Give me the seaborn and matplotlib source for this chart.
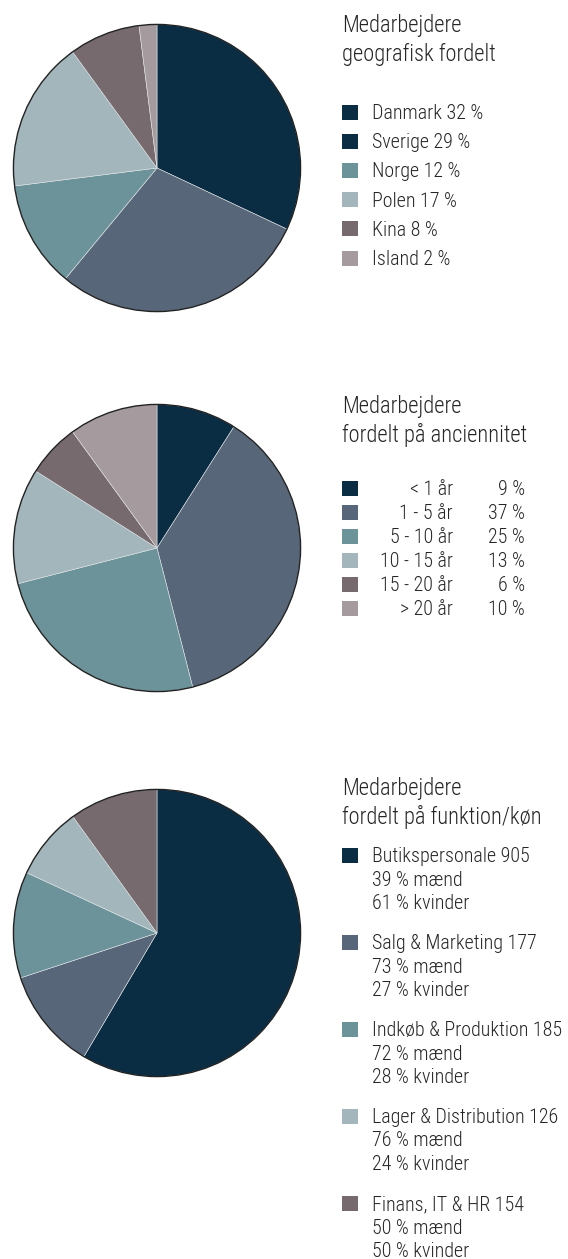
import matplotlib
matplotlib.use("Agg")
import matplotlib.pyplot as plt
from matplotlib import font_manager as fm
from matplotlib.patches import Circle, Rectangle
import seaborn as sns

# --- data ---
geo_labels = ["Danmark", "Sverige", "Norge", "Polen", "Kina", "Island"]
geo_pct = [32, 29, 12, 17, 8, 2]

anc_labels = ["< 1 år", "1 - 5 år", "5 - 10 år", "10 - 15 år", "15 - 20 år", "> 20 år"]
anc_pct = [9, 37, 25, 13, 6, 10]

func_labels = ["Butikspersonale", "Salg & Marketing", "Indkøb & Produktion",
               "Lager & Distribution", "Finans, IT & HR"]
func_count = [905, 177, 185, 126, 154]
func_men = [39, 73, 72, 76, 50]
func_women = [61, 27, 28, 24, 50]

palette = ["#0b2d44", "#576779", "#6d939a", "#a2b6bc", "#766a6e", "#a59b9e"]
# i referencen har Sverige samme farve som Danmark i forklaringen
geo_legend_colors = ["#0b2d44", "#0b2d44", "#6d939a", "#a2b6bc", "#766a6e", "#a59b9e"]

sns.set_theme(style="white")

# smal skrift ligesom i originalen, hvis den findes
wanted = ["Roboto Condensed", "Liberation Sans Narrow", "Archivo Narrow", "PT Sans Narrow",
          "Fira Sans Condensed", "IBM Plex Sans Condensed", "Encode Sans Condensed",
          "Open Sans Condensed", "Asap Condensed", "Barlow Semi Condensed", "Arimo"]
installed = {}
for f in fm.fontManager.ttflist:
    installed.setdefault(f.name, set()).add(f.weight)
font = next((n for n in wanted if n in installed), "DejaVu Sans")
weight = 300 if 300 in installed.get(font, set()) else "normal"
plt.rcParams["font.family"] = [font, "DejaVu Sans"]
txt_color = "#262626"

W, H = 568, 1259
fig = plt.figure(figsize=(W / 100, H / 100), dpi=100)
fig.patch.set_facecolor("white")


def pie_axes(cx, cy, r):
    return fig.add_axes([(cx - r) / W, 1 - (cy + r) / H, 2 * r / W, 2 * r / H])


def draw_pie(ax, values, colors):
    ax.pie(values, colors=colors, startangle=90, counterclock=False, radius=1,
           wedgeprops=dict(edgecolor="#dfe4e6", linewidth=0.4))
    ax.add_patch(Circle((0, 0), 1, fill=False, edgecolor="#222222", linewidth=1.0))
    ax.set_xlim(-1.01, 1.01)
    ax.set_ylim(-1.01, 1.01)
    ax.axis("off")


draw_pie(pie_axes(157, 168, 145), geo_pct, palette[:len(geo_pct)])
draw_pie(pie_axes(157, 548, 145), anc_pct, palette[:len(anc_pct)])
draw_pie(pie_axes(157, 933, 145), func_count, palette[:len(func_count)])

# overlay in pixel coordinates for titles and legends
ov = fig.add_axes([0, 0, 1, 1])
ov.set_xlim(0, W)
ov.set_ylim(H, 0)
ov.axis("off")

# skriftstørrelse tilpasses så bredden passer med originalen
renderer = fig.canvas.get_renderer()


def fit_size(sample, target_px, start=14.0):
    t = ov.text(0, 0, sample, fontsize=start, weight=weight)
    w = t.get_window_extent(renderer).width
    t.remove()
    return min(start * target_px / w, 18.0)


title_fs = fit_size("fordelt på funktion/køn", 200, 16)
leg_fs = fit_size("Indkøb & Produktion 185", 190, 14)
sw = 15


def txt(x, y, s, fs, **kw):
    ov.text(x, y, s, fontsize=fs, color=txt_color, va="baseline", weight=weight, **kw)


def title(y, line1, line2):
    txt(342, y, line1, title_fs)
    txt(342, y + 28.5, line2, title_fs)


def swatch(yc, color):
    ov.add_patch(Rectangle((342, yc - sw / 2), sw + 1, sw, facecolor=color, edgecolor="none"))


# legend 1
title(32, "Medarbejdere", "geografisk fordelt")
for i, (lab, p) in enumerate(zip(geo_labels, geo_pct)):
    yc = 112 + 29.2 * i
    swatch(yc, geo_legend_colors[i])
    txt(372, yc + 7, f"{lab} {p} %", leg_fs)

# legend 2
title(413, "Medarbejdere", "fordelt på anciennitet")
for i, (lab, p) in enumerate(zip(anc_labels, anc_pct)):
    yc = 488 + 24 * i
    swatch(yc, palette[i])
    txt(453, yc + 7, lab, leg_fs, ha="right")
    txt(525, yc + 7, f"{p} %", leg_fs, ha="right")

# legend 3
title(795, "Medarbejdere", "fordelt på funktion/køn")
for i, lab in enumerate(func_labels):
    yc = 855 + 87 * i
    swatch(yc, palette[i])
    lines = [f"{lab} {func_count[i]}", f"{func_men[i]} % mænd", f"{func_women[i]} % kvinder"]
    for j, line in enumerate(lines):
        txt(372, yc + 7 + 23.5 * j, line, leg_fs)

fig.savefig("out.png", dpi=100, facecolor="white")
